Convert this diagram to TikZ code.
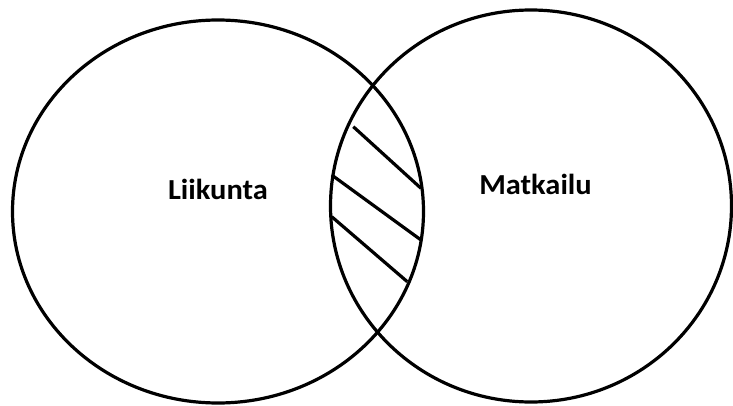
\documentclass[tikz,border=0pt]{standalone}
\usepackage{fontspec}
\setmainfont{Carlito}
\usetikzlibrary{positioning}
\tikzset{
  setline/.style={line width=3.2pt, draw=black},
  hatch/.style={line width=3.2pt, draw=black},
  setlabel/.style={font=\fontsize{29}{34}\selectfont\bfseries, inner sep=0pt, anchor=base, xscale=1.05}
}

\begin{document}
\begin{tikzpicture}[x=1pt,y=1pt]
    \useasboundingbox (0,0) rectangle (733,405);
    \draw[setline] (218,193.5) ellipse [x radius=205.5, y radius=191.5];
    \draw[setline] (531,199) ellipse [x radius=200.5, y radius=196];
    \node[setlabel] (liikunta) at (218,205.7) {Liikunta};
    \node[setlabel] (matkailu) at (535.5,211) {Matkailu};
    % viivoitus
    \draw[hatch] (353.3,278.3) -- (421,216.7);
    \draw[hatch] (331.7,230) -- (421,165);
    \draw[hatch] (331.7,188.3) -- (407.3,123.3);
  \end{tikzpicture}
\end{document}
